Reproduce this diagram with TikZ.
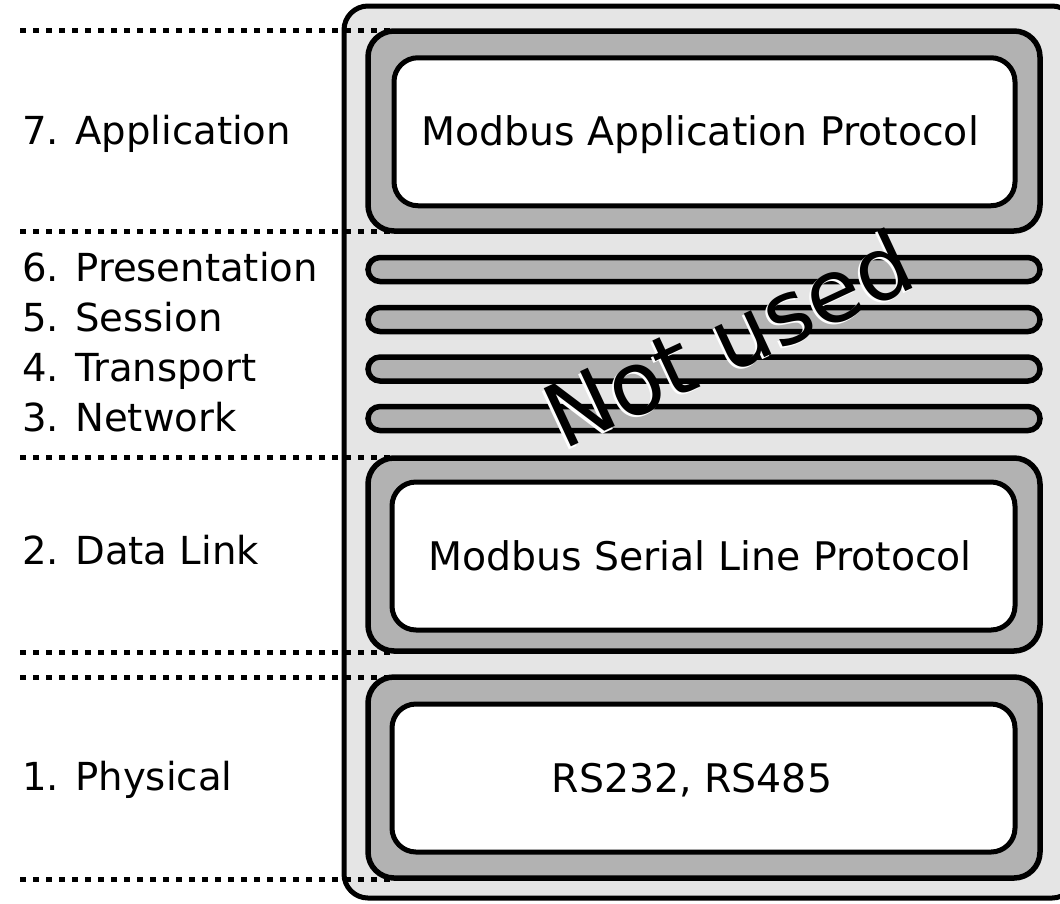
\documentclass[tikz,border=0pt]{standalone}
\usepackage{fontspec}
\setmainfont{DejaVu Sans}
\begin{document}
\begin{tikzpicture}[x=1pt,y=-1pt,
  outerbox/.style={draw, line width=5pt, fill=black!10, rounded corners=24pt,
    inner sep=0pt, outer sep=0pt},
  layerbox/.style={draw, line width=5.5pt, fill=black!30, rounded corners=26pt,
    inner sep=0pt, outer sep=0pt, minimum width=672pt},
  innerbox/.style={draw, line width=5pt, fill=white, rounded corners=24pt,
    inner sep=0pt, outer sep=0pt, minimum height=148pt},
  pill/.style={draw, line width=5.5pt, fill=black!30, rounded corners=12pt,
    inner sep=0pt, outer sep=0pt, minimum width=672pt, minimum height=24pt},
  sep/.style={line width=5pt, dash pattern=on 6pt off 7pt},
  lbl/.style={anchor=base west, inner sep=0pt, font=\fontsize{38.6}{46}\selectfont},
  boxtext/.style={anchor=base, inner sep=0pt, font=\fontsize{39.4}{47}\selectfont},
  stamp/.style={inner sep=0pt, rotate=25, font=\fontsize{88}{100}\selectfont}]
\useasboundingbox (0,0) rectangle (1060,903);

% frame of the whole stack
\node[outerbox, minimum width=732pt, minimum height=892pt] (stack) at (710,452) {};

% layer 7
\node[layerbox, minimum height=200pt] (app) at (704,131) {};
\node[innerbox, minimum width=621pt] (appin) at (704.5,131.75) {};
\node[boxtext] (apptxt) at (700,145) {Modbus Application Protocol};

% layers 6 to 3 (empty)
\node[pill] (pres) at (704,269.5) {};
\node[pill] (sess) at (704,319.5) {};
\node[pill] (trans) at (704,369) {};
\node[pill] (net) at (704,418.5) {};

% layer 2
\node[layerbox, minimum height=193pt] (link) at (704,554.5) {};
\node[innerbox, minimum width=623pt] (linkin) at (703.5,556) {};
\node[boxtext] (linktxt) at (700,570) {Modbus Serial Line Protocol};

% layer 1
\node[layerbox, minimum height=201pt] (phys) at (704,777.5) {};
\node[innerbox, minimum width=623pt] (physin) at (703.5,778) {};
\node[boxtext] (phystxt) at (692,792) {RS232, RS485};

% diagonal stamp over the unused layers, with a light offset edge
\node[stamp, text=white] (unusedshadow) at (726,340.5) {Not used};
\node[stamp] (unused) at (728,338) {Not used};

% OSI layer names
\node[lbl] (osi7) at (22,144) {7. Application};
\node[lbl] (osi6) at (22,281.7) {6. Presentation};
\node[lbl] (osi5) at (22,331.5) {5. Session};
\node[lbl] (osi4) at (22,381.5) {4. Transport};
\node[lbl] (osi3) at (22,431.5) {3. Network};
\node[lbl] (osi2) at (22,564) {2. Data Link};
\node[lbl] (osi1) at (22,790) {1. Physical};

% dotted layer boundaries
\foreach \yy in {30.5,231.5,457,652,677,879.5}
  \draw[sep] (20,\yy) -- (395,\yy);
\end{tikzpicture}
\end{document}
